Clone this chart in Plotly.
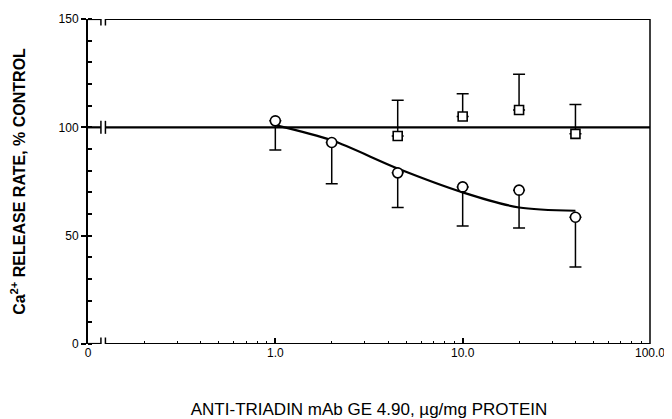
import plotly.graph_objects as go

# Anti-triadin mAb (circles): mean and lower error
circ_x = [1.0, 2.0, 4.5, 10.0, 20.0, 40.0]
circ_y = [103, 93, 79, 72.5, 71, 58.5]
circ_err_low = [13.5, 19, 16, 18, 17.5, 23]

# Control (squares): mean and upper error
sq_x = [4.5, 10.0, 20.0, 40.0]
sq_y = [96, 105, 108, 97]
sq_err_up = [16.5, 10.5, 16.5, 13.5]

# Fitted curve
fit_x = [1.0, 2.0, 4.5, 10.0, 20.0, 40.0]
fit_y = [101, 94, 81, 70, 63, 61.5]

x_tickvals = [0.1, 1, 10, 100]
x_ticktext = ["0", "1.0", "10.0", "100.0"]
x_minor = [m * d for d in (0.1, 1, 10) for m in range(2, 10)]
y_tickvals = [0, 50, 100, 150]
y_ticktext = ["0", "50", "100", "150"]

FONT = "Liberation Sans, Arial, sans-serif"

fig = go.Figure()

fig.add_trace(go.Scatter(x=fit_x, y=fit_y, mode="lines",
                         line=dict(color="black", width=2.2, shape="spline", smoothing=0.8),
                         hoverinfo="skip", showlegend=False))

fig.add_trace(go.Scatter(
    x=circ_x, y=circ_y, mode="markers",
    marker=dict(symbol="circle", size=10, color="white", line=dict(color="black", width=1.6)),
    error_y=dict(type="data", symmetric=False, array=[0] * len(circ_x), arrayminus=circ_err_low,
                 color="black", thickness=1.5, width=6),
    showlegend=False))

fig.add_trace(go.Scatter(
    x=sq_x, y=sq_y, mode="markers",
    marker=dict(symbol="square", size=9, color="white", line=dict(color="black", width=1.6)),
    error_y=dict(type="data", symmetric=False, array=sq_err_up, arrayminus=[0] * len(sq_x),
                 color="black", thickness=1.5, width=6),
    showlegend=False))

# frame / reference lines with axis breaks
b0, b1 = 0.023, 0.031
shapes = []
for yv in (0, 150, 100):
    shapes.append(dict(type="line", xref="paper", yref="y", x0=0, x1=b0, y0=yv, y1=yv,
                       line=dict(color="black", width=2.2)))
    shapes.append(dict(type="line", xref="paper", yref="y", x0=b1, x1=1, y0=yv, y1=yv,
                       line=dict(color="black", width=2.2)))
    for bx in (b0, b1):
        shapes.append(dict(type="line", xref="paper", yref="y", x0=bx, x1=bx, y0=yv - 3, y1=yv + 3,
                           line=dict(color="black", width=1.5)))
shapes.append(dict(type="line", xref="paper", yref="y", x0=1, x1=1, y0=0, y1=150,
                   line=dict(color="black", width=1.5)))

fig.update_layout(
    width=664, height=411,
    margin=dict(l=80, r=22, t=11, b=75),
    plot_bgcolor="white", paper_bgcolor="white",
    font=dict(family=FONT, color="black", size=12),
    shapes=shapes,
    xaxis=dict(
        type="log", range=[-1, 2], tickvals=x_tickvals, ticktext=x_ticktext,
        ticks="inside", ticklen=6, tickwidth=1.5, tickcolor="black",
        showline=False, showgrid=False, zeroline=False, automargin=False,
        minor=dict(tickvals=x_minor, ticks="inside", ticklen=3, tickwidth=1.2, tickcolor="black", showgrid=False),
        tickfont=dict(size=12),
        title=dict(text="ANTI-TRIADIN mAb GE 4.90, µg/mg PROTEIN", font=dict(size=17), standoff=46),
    ),
    yaxis=dict(
        range=[0, 150], tickvals=y_tickvals, ticktext=y_ticktext,
        ticks="outside", ticklen=5, tickwidth=1.5, tickcolor="black",
        showline=True, linewidth=2, linecolor="black",
        showgrid=False, zeroline=False, automargin=False,
        minor=dict(dtick=10, ticks="inside", ticklen=4, tickwidth=1.5, tickcolor="black", showgrid=False),
        tickfont=dict(size=12),
        title=dict(text="<b>Ca<sup>2+</sup> RELEASE RATE, % CONTROL</b>", font=dict(size=16), standoff=30),
    ),
)

fig.write_html("out.html")
